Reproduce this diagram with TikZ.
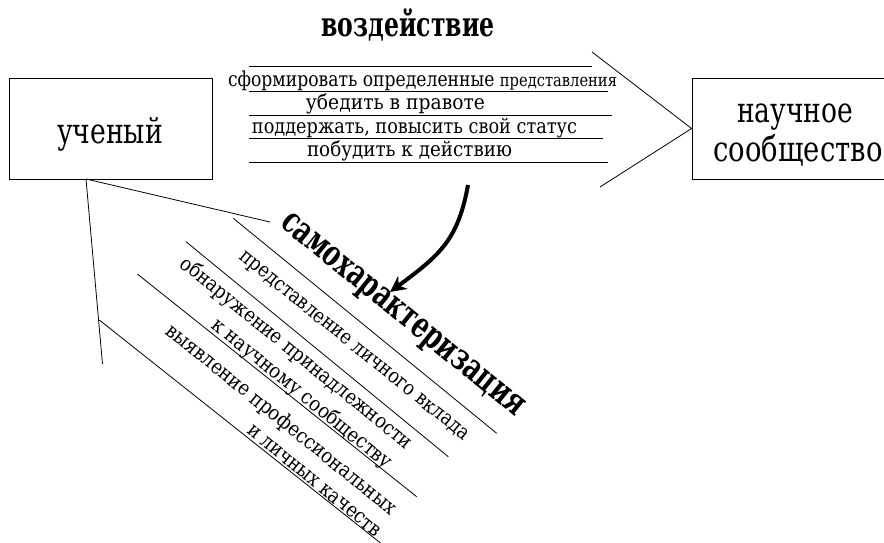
\documentclass[tikz,border=0pt]{standalone}
\usepackage{fontspec}
\setmainfont{DejaVu Serif}
\newfontfamily\tnr{DejaVu Serif}
\newcommand\fitw[2]{\resizebox{#1}{\height}{#2}}
\usetikzlibrary{arrows.meta}
\begin{document}
\begin{tikzpicture}[x=1pt,y=-1pt,
  ln/.style={line width=0.8pt, draw=black},
  boxnode/.style={draw=black, line width=0.8pt, inner sep=0pt, fill=none},
  smalltxt/.style={font=\tnr\fontsize{20.5}{24}\selectfont, inner sep=0pt, anchor=base},
  bigtxt/.style={font=\tnr\fontsize{35}{42}\selectfont, inner sep=0pt, anchor=base},
  diagtxt/.style={font=\tnr\fontsize{20.5}{24}\selectfont, inner sep=0pt, rotate=-39},
  thickarrow/.style={line width=4pt, -{Stealth[length=16pt,width=16pt]}}
]
\useasboundingbox (0,0) rectangle (884,543);
\clip (0,0) rectangle (884,543);

% boxes
\node[boxnode, minimum width=203pt, minimum height=101pt] (sci) at (110.5,128.5) {};
\node[bigtxt] (scitxt) at (110,143) {\fitw{106pt}{ученый}};
\node[boxnode, minimum width=200pt, minimum height=101pt] (comm) at (792,128.5) {};
\node[bigtxt] (commtxt1) at (795,122) {\fitw{116pt}{научное}};
\node[bigtxt] (commtxt2) at (798,161) {\fitw{169pt}{сообщество}};

% title
\node[font=\tnr\bfseries\fontsize{34}{40}\selectfont, inner sep=0pt, anchor=base] (title) at (408,37) {\fitw{173pt}{воздействие}};

% horizontal lines
\coordinate (h1a) at (249,66);   \coordinate (h1b) at (592,66);
\coordinate (h2a) at (249,91.7); \coordinate (h2b) at (608,91.7);
\coordinate (h3a) at (249,115);  \coordinate (h3b) at (612,115);
\coordinate (h4a) at (249,138);  \coordinate (h4b) at (603,138);
\coordinate (h5a) at (249,162);  \coordinate (h5b) at (608,162);
\draw[ln] (h1a) -- (h1b);
\draw[ln] (h2a) -- (h2b);
\draw[ln] (h3a) -- (h3b);
\draw[ln] (h4a) -- (h4b);
\draw[ln] (h5a) -- (h5b);

\node[smalltxt] (t1) at (422.5,86) {\fitw{389pt}{сформировать определенные {\fontsize{17.5}{20}\selectfont представления}}};
\node[smalltxt] (t2) at (395.5,110) {\fitw{179pt}{убедить в правоте}};
\node[smalltxt] (t3) at (414.5,133.3) {\fitw{325pt}{поддержать, повысить свой статус}};
\node[smalltxt] (t4) at (409.5,156.7) {\fitw{205pt}{побудить к действию}};

% chevron
\coordinate (chtop) at (592,52);
\coordinate (chbot) at (600,187);
\draw[ln] (chtop) -- (comm.west) -- (chbot);

% lines from scientist
\coordinate (root) at (86,179);
\coordinate (rootA) at (270,222);
\coordinate (rootB) at (102.5,364);
\draw[ln] (root) -- (rootA);
\draw[ln] (root) -- (rootB);

% diagonal lines
\coordinate (dA1) at (233.3,218.3); \coordinate (dA2) at (496.7,433.3);
\coordinate (dB1) at (186,241.7);   \coordinate (dB2) at (448.3,456.7);
\coordinate (dC1) at (137.3,274);   \coordinate (dC2) at (416.7,496.7);
\coordinate (dD1) at (99.3,320);    \coordinate (dD2) at (380.5,543);
\draw[ln] (dA1) -- (dA2);
\draw[ln] (dB1) -- (dB2);
\draw[ln] (dC1) -- (dC2);
\draw[ln] (dD1) -- (dD2);

% diagonal texts
\node[font=\tnr\bfseries\fontsize{36}{42}\selectfont, inner sep=0pt, rotate=-39] (self) at (401,317) {\fitw{304pt}{самохарактеризация}};
\node[diagtxt] (d1) at (353,347) {\fitw{290pt}{представление личного вклада}};
\node[diagtxt] (d2) at (296,353.5) {\fitw{292pt}{обнаружение принадлежности}};
\node[diagtxt] (d3) at (301.6,394) {\fitw{226pt}{к научному сообществу}};
\node[diagtxt] (d4) at (281,420) {\fitw{290pt}{выявление профессиональных}};
\node[diagtxt] (d5) at (314,481) {\fitw{166pt}{и личных качеств}};

% arrow
\coordinate (arrS) at (468,185);
\coordinate (arrE) at (390,292);
\draw[thickarrow] (arrS) .. controls (458,240) and (440,255) .. (arrE);
\end{tikzpicture}
\end{document}
